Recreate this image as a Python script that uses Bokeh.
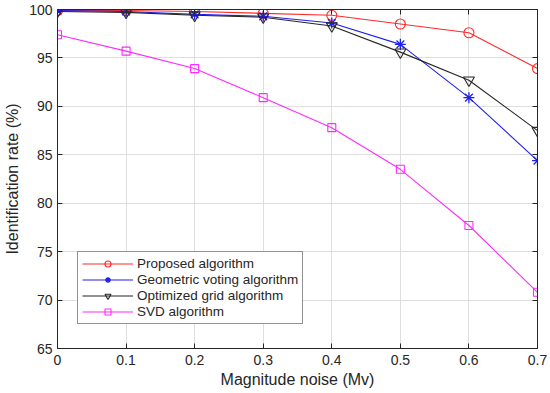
from bokeh.plotting import figure
from bokeh.models import Legend, LegendItem, LinearAxis, FixedTicker, Range1d
from bokeh.embed import file_html
from bokeh.resources import INLINE

noise = [0, 0.1, 0.2, 0.3, 0.4, 0.5, 0.6, 0.7]
proposed = [99.9, 99.9, 99.8, 99.6, 99.4, 98.5, 97.6, 93.9]
geometric = [99.9, 99.8, 99.5, 99.3, 98.6, 96.4, 90.9, 84.4]
optimized = [99.8, 99.7, 99.4, 99.2, 98.3, 95.6, 92.7, 87.5]
svd = [97.4, 95.7, 93.9, 90.9, 87.8, 83.5, 77.7, 70.8]
x_ticks = [0, 0.1, 0.2, 0.3, 0.4, 0.5, 0.6, 0.7]
y_ticks = [65, 70, 75, 80, 85, 90, 95, 100]

FONT = "Liberation Sans"
DARK = "#262626"

p = figure(width=550, height=393, output_backend="svg", toolbar_location=None,
           x_range=Range1d(0, 0.7), y_range=Range1d(65, 100),
           min_border_left=57, min_border_top=9, min_border_right=13, min_border_bottom=45)
p.background_fill_color = "white"
p.border_fill_color = "white"
p.outline_line_color = DARK
p.outline_line_width = 1

for ax in [p.xaxis[0], p.yaxis[0]]:
    ax.major_tick_in = 5
    ax.major_tick_out = 0
    ax.minor_tick_line_color = None
    ax.axis_line_color = DARK
    ax.major_tick_line_color = DARK
    ax.major_label_text_font = FONT
    ax.major_label_text_font_size = "14px"
    ax.major_label_text_color = DARK
    ax.axis_label_text_font = FONT
    ax.axis_label_text_font_size = "16px"
    ax.axis_label_text_font_style = "normal"
    ax.axis_label_text_color = DARK

p.xaxis[0].ticker = FixedTicker(ticks=x_ticks)
p.yaxis[0].ticker = FixedTicker(ticks=y_ticks)
p.xaxis[0].axis_label = "Magnitude noise (Mv)"
p.yaxis[0].axis_label = "Identification rate (%)"
p.xaxis[0].major_label_standoff = 6
p.yaxis[0].major_label_standoff = 5
p.xaxis[0].axis_label_standoff = 3
p.yaxis[0].axis_label_standoff = 5

ra = LinearAxis(ticker=FixedTicker(ticks=y_ticks), major_tick_in=5, major_tick_out=0,
                minor_tick_line_color=None, major_label_overrides={t: "" for t in y_ticks},
                major_label_text_font_size="1px", major_label_standoff=0,
                axis_line_color=DARK, major_tick_line_color=DARK)
p.add_layout(ra, "right")
ta = LinearAxis(ticker=FixedTicker(ticks=x_ticks), major_tick_in=5, major_tick_out=0,
                minor_tick_line_color=None, major_label_overrides={t: "" for t in x_ticks},
                major_label_text_font_size="1px", major_label_standoff=0,
                axis_line_color=DARK, major_tick_line_color=DARK)
p.add_layout(ta, "above")

p.grid.grid_line_color = "#dedede"
p.grid.grid_line_width = 1

r1 = p.line(noise, proposed, line_color="#ff2a2a", line_width=1.1)
m1 = p.scatter(noise, proposed, marker="circle", size=10, fill_color=None, line_color="#ff2a2a", line_width=1.1)
r2 = p.line(noise, geometric, line_color="#2020f0", line_width=1.1)
m2 = p.scatter(noise, geometric, marker="asterisk", size=11, line_color="#2020f0", line_width=1.3)
r3 = p.line(noise, optimized, line_color=DARK, line_width=1.1)
m3 = p.scatter(noise, optimized, marker="inverted_triangle", size=11, fill_color=None, line_color=DARK, line_width=1.1)
r4 = p.line(noise, svd, line_color="#ff2aff", line_width=1.1)
m4 = p.scatter(noise, svd, marker="square", size=8, fill_color=None, line_color="#ff2aff", line_width=1.1)

legend = Legend(items=[
    LegendItem(label="Proposed algorithm", renderers=[r1, m1]),
    LegendItem(label="Geometric voting algorithm", renderers=[r2, m2]),
    LegendItem(label="Optimized grid algorithm", renderers=[r3, m3]),
    LegendItem(label="SVD algorithm", renderers=[r4, m4]),
], location=(20, 24))
legend.label_text_font = FONT
legend.label_text_font_size = "13.5px"
legend.label_text_color = DARK
legend.border_line_color = DARK
legend.border_line_width = 1
legend.background_fill_alpha = 1
legend.glyph_width = 51
legend.glyph_height = 15
legend.label_height = 15
legend.spacing = 1
legend.padding = 4
legend.margin = 0
legend.label_standoff = 4
p.add_layout(legend, "center")

open("out.html", "w").write(file_html(p, INLINE))
